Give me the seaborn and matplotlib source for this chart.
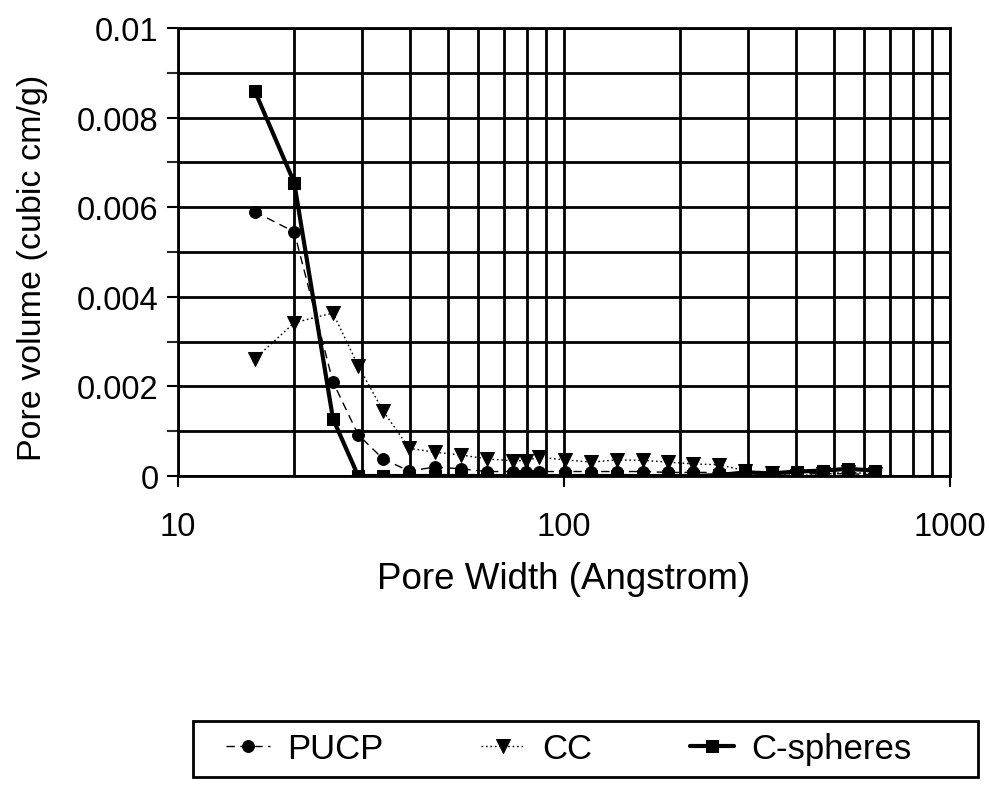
import numpy as np
import pandas as pd
import matplotlib
matplotlib.use("Agg")
import matplotlib.pyplot as plt
from matplotlib.patches import Rectangle
from matplotlib.ticker import MultipleLocator, FuncFormatter, LogLocator, NullFormatter
import seaborn as sns

# Pore widths (Angstrom) shared by all three samples
pore_width = [15.8, 20.0, 25.2, 29.3, 34.0, 39.7, 46.3, 54.1, 63.2, 73.8, 79.7, 86.1,
              100.6, 117.5, 137.2, 160.2, 185.9, 215.8, 252.1, 294.4, 346.0, 401.5,
              468.8, 544.4, 639.5]

# Differential pore volume (cubic cm/g)
pucp = [0.0059, 0.00545, 0.0021, 0.00092, 0.00038, 0.00011, 0.0002, 0.00016, 0.0001,
        0.0001, 0.0001, 0.0001, 0.0001, 0.0001, 0.0001, 0.0001, 0.00008, 0.00008,
        0.00008, 0.00005, 0.00005, 0.00005, 0.00005, 0.00005, 0.00003]
cc = [0.00261, 0.00342, 0.00364, 0.00246, 0.00145, 0.00062, 0.00053, 0.00047, 0.00038,
      0.00034, 0.00034, 0.00042, 0.00036, 0.00031, 0.00036, 0.00035, 0.00031, 0.00027,
      0.00025, 0.00012, 0.00006, 0.0, 0.00005, 0.00008, 0.00005]
c_spheres = [0.0086, 0.00655, 0.00128, 0.0, 0.0, 0.0, 0.0, 0.0, 0.0, 0.0, 0.0, 0.0,
             0.0, 0.0, 0.0, 0.0, 0.0, 0.0, 0.00002, 0.00008, 0.00006, 0.0001, 0.00012,
             0.00016, 0.00012]

series_names = ["PUCP", "CC", "C-spheres"]
y_ticks = [0, 0.002, 0.004, 0.006, 0.008, 0.01]
x_ticks = [10, 100, 1000]

sns.set_theme(style="white")
plt.rcParams["font.family"] = ["Liberation Sans", "DejaVu Sans"]
plt.rcParams["text.color"] = "black"

W, H = 990, 812
fig = plt.figure(figsize=(W / 100, H / 100), dpi=100)
ax = fig.add_axes([178 / W, 1 - 477 / H, (950 - 178) / W, (477 - 29) / H])

df = pd.DataFrame({"width": pore_width, "PUCP": pucp, "CC": cc, "C-spheres": c_spheres})

styles = {
    "PUCP": dict(marker="o", markersize=8.5, linewidth=1.0, linestyle=(0, (6, 4))),
    "CC": dict(marker="v", markersize=9.5, linewidth=1.0, linestyle=(0, (1.2, 2))),
    "C-spheres": dict(marker="s", markersize=8, linewidth=3.0, linestyle="-"),
}
for name in series_names:
    sns.lineplot(data=df, x="width", y=name, ax=ax, color="black", label=name,
                 markeredgecolor="black", markerfacecolor="black", zorder=5,
                 **styles[name])

ax.set_xscale("log")
ax.set_xlim(10, 1000)
ax.set_ylim(0, 0.01)
ax.set_xticks(x_ticks)
ax.set_xticklabels([str(t) for t in x_ticks])
ax.xaxis.set_minor_locator(LogLocator(base=10, subs=np.arange(2, 10)))
ax.xaxis.set_minor_formatter(NullFormatter())
ax.set_yticks(y_ticks)
ax.yaxis.set_major_formatter(FuncFormatter(lambda v, p: "0" if v == 0 else f"{v:g}"))
ax.yaxis.set_minor_locator(MultipleLocator(0.001))

ax.grid(which="both", color="black", linewidth=2.0)
for s in ax.spines.values():
    s.set_color("black")
    s.set_linewidth(2.0)

tick_size = 23.5
ax.tick_params(axis="y", which="major", direction="out", length=8, width=1.5,
               labelsize=tick_size, pad=6, left=True, colors="black")
ax.tick_params(axis="y", which="minor", direction="out", length=8, width=1.5, left=True)
ax.tick_params(axis="x", which="major", direction="out", length=8, width=1.5,
               labelsize=tick_size, pad=17, bottom=True, colors="black")
ax.tick_params(axis="x", which="minor", length=0)

ax.set_xlabel("Pore Width (Angstrom)", fontsize=26.5, color="black", labelpad=14)
ax.set_ylabel("Pore volume (cubic cm/g)", fontsize=24.5, color="black")
ax.yaxis.set_label_coords((48 - 178) / 772, (477 - 268) / 448)

# Legend: boxed frame below the plot with three entries in a row
ax.get_legend().remove()
handles, labels = ax.get_legend_handles_labels()
fig.patches.append(Rectangle((193 / W, 1 - 778 / H), (978 - 193) / W, 56 / H,
                             transform=fig.transFigure, fill=False,
                             edgecolor="black", linewidth=2.0))
fig.legend(handles, labels, loc="center left",
           bbox_to_anchor=(226 / W, 1 - 750 / H), ncol=3, frameon=False,
           fontsize=25, labelcolor="black", handlelength=1.27, handletextpad=0.5,
           columnspacing=2.8, borderpad=0, borderaxespad=0)

fig.savefig("out.png", dpi=100, facecolor="white")
